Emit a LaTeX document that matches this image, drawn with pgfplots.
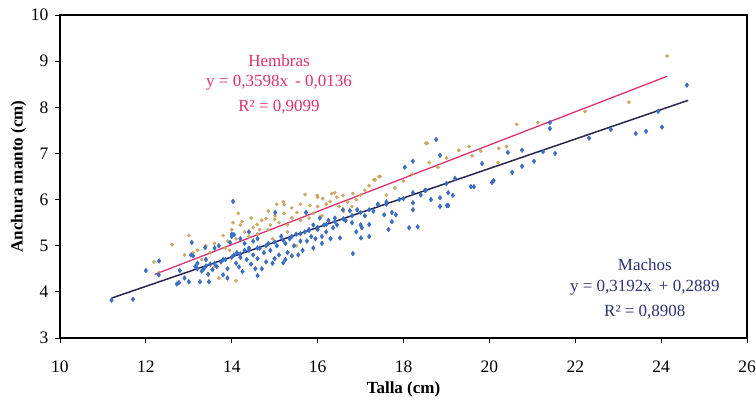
\documentclass[border=0pt]{standalone}
\usepackage{pgfplots}
\pgfplotsset{compat=1.18}
\usepackage{fontspec}
\setmainfont{Liberation Serif}
\definecolor{machosblue}{HTML}{3B6CC4}
\definecolor{hembrastan}{HTML}{C9A25A}
\definecolor{hembrasline}{HTML}{E0306E}
\definecolor{machosline}{HTML}{26264F}
\definecolor{machostext}{HTML}{2E3172}
\begin{document}
\begin{tikzpicture}
\useasboundingbox (-60bp,-62bp) rectangle (696bp,338bp);
\begin{axis}[
  at={(0,0)}, anchor=south west,
  scale only axis, width=687bp, height=323bp,
  xmin=10, xmax=26, ymin=3, ymax=10,
  xtick={10,12,...,26}, ytick={3,4,...,10},
  tick align=outside, major tick length=5bp,
  xtick pos=bottom, ytick pos=left,
  axis line style={line width=1.1pt},
  every tick/.style={black, line width=1pt},
  /pgf/number format/assume math mode=true,
  /pgf/number format/1000 sep={},
  tick label style={font=\fontsize{17.5bp}{20bp}\selectfont},
  xticklabel style={yshift=-14bp},
  yticklabel style={xshift=-3bp},
  label style={font=\fontsize{17bp}{20bp}\selectfont\bfseries},
  xlabel={Talla (cm)},
  ylabel={Anchura manto (cm)},
  xlabel style={yshift=-3bp},
  ylabel style={yshift=-2bp},
  clip=false,
]
% Hembras
\addplot[only marks, mark=*, mark size=1.7pt, color=hembrastan, opacity=0.9] coordinates {
(12.19,4.65) (12.3,4.42) (12.61,5.02) (12.9,4.8) (13.0,5.22) (13.1,4.85) (13.2,4.9) (13.3,4.7) (13.4,5.0) (13.5,4.85)
(13.6,5.05) (13.7,4.3) (13.8,5.22) (13.85,4.95) (13.9,5.1) (14.0,5.35) (14.03,5.5) (14.1,4.24) (14.1,5.15) (14.2,5.45)
(14.24,5.52) (14.3,5.3) (14.4,5.2) (14.5,5.4) (14.59,5.46) (14.6,5.25) (14.7,5.55) (14.8,5.59) (14.85,5.35) (14.9,5.45)
(15.0,5.57) (15.01,5.65) (15.1,5.5) (15.22,5.89) (15.22,5.7) (15.3,5.45) (15.4,5.6) (15.52,5.72) (15.6,5.55) (15.71,6.11)
(15.73,5.72) (15.8,5.6) (15.82,5.87) (15.9,5.7) (15.99,6.09) (16.0,5.85) (16.12,6.02) (16.2,5.9) (16.29,5.96) (16.33,6.13)
(16.4,6.15) (16.5,5.85) (16.59,6.09) (16.7,5.95) (16.82,6.13) (16.9,6.0) (17.31,6.43) (17.34,6.43) (17.43,6.5) (17.45,6.5)
(17.6,6.1) (17.8,6.25) (18.0,6.4) (18.2,6.55) (18.52,7.22) (18.55,7.22) (18.6,6.8) (18.8,6.7) (19.0,6.9) (19.29,7.07)
(19.53,7.15) (19.6,6.95) (19.8,7.05) (20.2,6.8) (20.22,7.11) (20.4,7.15) (20.64,7.63) (21.13,7.67) (22.23,7.91) (23.25,8.11)
(24.14,9.11) (15.5,5.0) (15.3,5.3) (14.95,5.15) (16.1,5.65) (13.6,4.55) (16.6,5.75) (17.0,6.1) (16.8,5.85) (14.15,5.7)
(15.05,5.9) (15.4,5.82) (14.65,5.35) (13.95,4.9) (16.45,6.05) (17.1,6.2) (15.2,5.95) (15.6,5.9) (14.45,5.6) (16.0,6.05)
(17.2,6.3) (14.85,5.75)
};
% Machos
\addplot[only marks, mark=diamond*, mark size=2.4pt, color=machosblue] coordinates {
(11.2,3.82) (11.7,3.84) (12.0,4.46) (12.31,4.67) (12.3,4.37) (12.72,4.17) (12.77,4.2) (12.79,4.46) (12.9,4.3) (13.0,4.22)
(13.05,4.8) (13.07,5.07) (13.1,4.78) (13.15,4.55) (13.2,4.62) (13.26,4.22) (13.3,4.45) (13.35,4.5) (13.38,4.96) (13.4,4.7)
(13.45,4.38) (13.47,4.22) (13.5,4.6) (13.55,4.48) (13.6,4.95) (13.65,4.55) (13.7,5.0) (13.75,4.65) (13.8,4.37) (13.85,4.7)
(13.9,4.5) (13.96,5.07) (14.0,5.25) (14.03,5.96) (14.05,5.24) (14.05,4.8) (14.1,4.62) (14.12,4.85) (14.17,4.54) (14.2,4.75)
(14.25,4.44) (14.3,4.9) (14.35,4.7) (14.4,4.95) (14.45,4.6) (14.5,4.8) (14.55,4.5) (14.6,5.15) (14.6,4.72) (14.65,4.95)
(14.7,4.5) (14.75,4.85) (14.8,4.65) (14.85,5.05) (14.9,4.9) (14.95,4.62) (15.0,4.72) (15.01,5.72) (15.05,5.0) (15.1,4.8)
(15.15,5.2) (15.2,4.63) (15.25,5.05) (15.3,4.85) (15.35,5.15) (15.4,4.78) (15.45,5.0) (15.5,5.25) (15.55,4.8) (15.6,5.1)
(15.65,4.9) (15.7,5.3) (15.73,5.72) (15.75,5.1) (15.8,5.35) (15.85,5.2) (15.9,5.45) (15.95,5.15) (16.0,5.35) (16.05,5.6)
(16.1,5.2) (16.15,5.45) (16.2,5.3) (16.25,5.55) (16.3,5.15) (16.36,5.39) (16.4,5.6) (16.45,5.45) (16.52,5.17) (16.59,5.78)
(16.65,5.55) (16.75,5.76) (16.8,5.5) (16.92,5.78) (17.01,5.17) (17.03,5.39) (17.1,5.65) (17.2,5.46) (17.2,5.2) (16.82,4.83)
(17.3,5.75) (17.4,5.9) (17.55,5.67) (17.6,5.95) (17.73,5.72) (17.73,5.52) (17.82,5.67) (17.9,6.0) (18.03,6.7) (18.13,5.39)
(18.22,5.93) (18.22,5.78) (18.22,6.83) (18.22,6.15) (18.33,5.41) (18.4,6.1) (18.52,6.2) (18.64,6.0) (18.76,7.3) (18.85,6.96)
(18.85,6.04) (18.85,5.85) (19.01,5.87) (19.04,6.15) (19.04,5.87) (19.15,6.09) (19.2,6.46) (19.57,6.28) (19.64,6.28) (19.83,6.78)
(20.06,6.37) (20.1,6.41) (20.43,7.02) (20.53,6.59) (20.76,7.07) (20.76,6.72) (21.04,6.83) (21.25,7.04) (21.41,7.54) (21.41,7.67)
(21.53,7.0) (22.32,7.33) (22.83,7.52) (23.41,7.43) (23.65,7.48) (23.93,7.91) (24.02,7.57) (24.6,8.48)
(13.2,4.5) (13.6,4.62) (14.0,4.75) (14.4,4.9) (14.8,5.0) (15.2,5.12) (15.6,5.26) (16.0,5.4) (16.4,5.52) (16.8,5.65)
(17.2,5.78) (17.6,5.9) (18.0,6.02) (18.5,6.2) (19.0,6.35) (13.4,4.56) (13.8,4.7) (14.2,4.82) (14.6,4.95) (15.0,5.08)
(15.4,5.2) (15.8,5.33) (16.2,5.46) (16.6,5.58) (17.0,5.72) (14.0,5.2) (14.2,5.15) (14.3,5.05) (14.5,5.1) (14.4,5.3)
(17.0,5.45) (17.65,5.35) (16.9,5.3) (15.9,4.95) (14.6,4.35) (13.9,4.3) (15.25,4.7) (16.1,5.05)
};
% trend lines
\addplot[color=hembrasline, line width=1.3pt] coordinates {(12.2,4.376) (24.14,8.672)};
\addplot[color=machosline, line width=1.5pt] coordinates {(11.2,3.864) (24.63,8.151)};
% labels
\node[color=hembrasline, font=\fontsize{17bp}{20bp}\selectfont] at (axis cs:15.10,9.02) {Hembras};
\node[color=hembrasline, font=\fontsize{17bp}{20bp}\selectfont] at (axis cs:15.10,8.53) {y = 0,3598x \,- 0,0136};
\node[color=hembrasline, font=\fontsize{17bp}{20bp}\selectfont] at (axis cs:15.10,8.00) {R² = 0,9099};
\node[color=machostext, font=\fontsize{17bp}{20bp}\selectfont] at (axis cs:23.62,4.59) {Machos};
\node[color=machostext, font=\fontsize{17bp}{20bp}\selectfont] at (axis cs:23.62,4.09) {y = 0,3192x \,+ 0,2889};
\node[color=machostext, font=\fontsize{17bp}{20bp}\selectfont] at (axis cs:23.62,3.57) {R² = 0,8908};
\end{axis}
\end{tikzpicture}
\end{document}
